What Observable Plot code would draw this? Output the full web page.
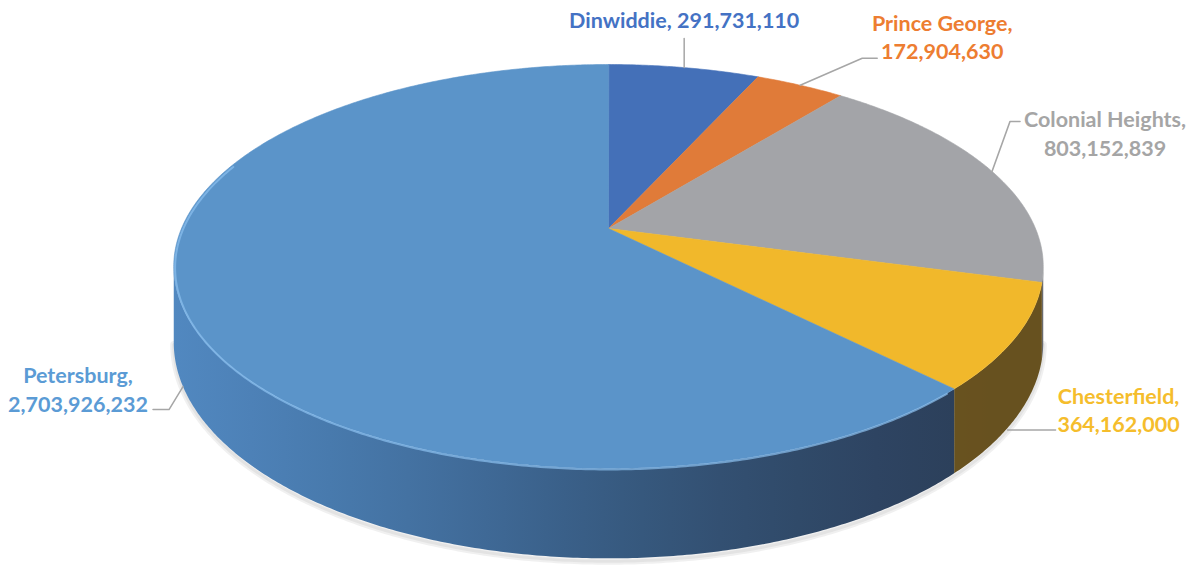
<!DOCTYPE html>
<html><head><meta charset="utf-8">
<script src="https://cdn.jsdelivr.net/npm/d3@7"></script>
<script src="https://cdn.jsdelivr.net/npm/@observablehq/plot@0.6"></script>
<style>html,body{margin:0;padding:0;background:#fff;} #chart svg{display:block}</style>
</head><body><div id="chart"></div>
<script>
// ---- data ----
const categories = ["Dinwiddie", "Prince George", "Colonial Heights", "Chesterfield", "Petersburg"];
const values = [291731110, 172904630, 803152839, 364162000, 2703926232];
// ---- palette ----
const faceColors = ["#4470b8", "#e07b39", "#a3a4a8", "#f1b82b", "#5b94c9"];
const labelColors = ["#4472c4", "#ed7d31", "#a5a5a5", "#f5bd2c", "#5b9bd5"];
const wallRamps = [
  ["#2c4a7e", "#2c4a7e"],
  ["#8a4a22", "#8a4a22"],
  ["#707174", "#6a6b6e"],
  ["#6f5722", "#67511f"],
  ["#5188c0", "#4575a7", "#375a80", "#2e4664", "#2b3c55"]
];
// ---- label layout (pixel offsets from the slice's attach point) ----
const labelLayout = [
  {depth: 0, dx: 0, dy: -49, leader: [[0, 0], [0, -29]]},
  {depth: 0, dx: 142, dy: -49, leader: [[0, 0], [62, -27], [77, -27]]},
  {depth: 0, dx: 113, dy: -39, leader: [[0, 0], [18, -50], [28, -50]]},
  {depth: 1, dx: 103, dy: -9, leader: [[-8, 12], [40, 12]]},
  {depth: 1, dx: -105, dy: 2, leader: [[0, 0], [-14, 23], [-30, 23]]}
];

// ---- geometry ----
const W = 1196, H = 571;
const CX = 608, CY = 228, RX = 427, RY = 194.8;
const P = 0.188;       // perspective strength
const DEPTH = 0.375;   // pie thickness in y units
const TAU = Math.PI * 2;

function proj(t, depth = 0, r = 1) {
  const u = r * Math.sin(t), v = r * Math.cos(t), w = 1 + P * v;
  return [u / w, (v - depth) / w];
}
function angles(a0, a1, step = Math.PI / 360) {
  const n = Math.max(1, Math.ceil((a1 - a0) / step));
  return d3.range(n + 1).map(k => a0 + (a1 - a0) * k / n);
}

const arcs = d3.pie().sort(null).startAngle(0).endAngle(TAU)(values);
const slices = arcs.map((a, i) => ({name: categories[i], a0: a.startAngle, a1: a.endAngle, i}));

// top faces
const facePts = [];
for (const s of slices) {
  facePts.push({X: 0, Y: 0, slice: s.name, c: faceColors[s.i]});
  for (const t of angles(s.a0, s.a1)) {
    const [X, Y] = proj(t);
    facePts.push({X, Y, slice: s.name, c: faceColors[s.i]});
  }
}

// outer walls (visible front part only), one polygon per slice with a horizontal gradient
const tv1 = Math.acos(-P), tv2 = TAU - tv1;
const Xext = 1 / Math.sqrt(1 - P * P);
const wallPts = [];
const gradients = [];
for (const s of slices) {
  const lo = Math.max(s.a0, tv1), hi = Math.min(s.a1, tv2);
  if (hi <= lo) continue;
  const ts = angles(lo, hi);
  const top = ts.map(t => proj(t, 0));
  const bot = ts.map(t => proj(t, DEPTH)).reverse();
  const pts = top.concat(bot);
  const xs = pts.map(p => p[0]);
  const xmin = d3.min(xs), xmax = d3.max(xs);
  const ramp = d3.interpolateRgbBasis(wallRamps[s.i]);
  const id = "wallgrad" + s.i;
  gradients.push({id, stops: d3.range(11).map(k => {
    const x = xmin + (xmax - xmin) * k / 10;
    return {offset: k / 10, color: ramp(Math.max(0, Math.min(1, (x + Xext) / (2 * Xext))))};
  })});
  for (const [X, Y] of pts) wallPts.push({X, Y, slice: s.name, c: `url(#${id})`});
}

// soft shadow under the base and rim highlight on the top face
const shadowPts = angles(tv1, tv2).map(t => { const [X, Y] = proj(t, DEPTH + 0.012); return {X, Y}; });
const pet = slices[4];
const rimPts = angles(pet.a0 + 0.02, pet.a0 + 2.7).map(t => { const [X, Y] = proj(t, 0.008, 0.997); return {X, Y}; });

// labels and leaders
const fmt = d3.format(",");
const labels = [], leaders = [];
slices.forEach((s, i) => {
  const L = labelLayout[i];
  const [ax, ay] = proj((s.a0 + s.a1) / 2, L.depth * DEPTH);
  const text = i === 0 ? `${s.name}, ${fmt(values[i])}` : `${s.name},\n${fmt(values[i])}`;
  labels.push({X: ax + L.dx / RX, Y: ay - L.dy / RY, text, c: labelColors[i]});
  L.leader.forEach(([dx, dy]) => leaders.push({X: ax + dx / RX, Y: ay - dy / RY, id: s.name}));
});

const chart = Plot.plot({
  width: W, height: H, margin: 0,
  x: {domain: [-CX / RX, (W - CX) / RX], range: [0, W], axis: null},
  y: {domain: [(CY - H) / RY, CY / RY], range: [H, 0], axis: null},
  color: {type: "identity"},
  style: {background: "#fff"},
  marks: [
    Plot.line(shadowPts, {x: "X", y: "Y", stroke: "#000", strokeOpacity: 0.06, strokeWidth: 7}),
    Plot.line(shadowPts, {x: "X", y: "Y", stroke: "#000", strokeOpacity: 0.05, strokeWidth: 3}),
    Plot.line(wallPts, {x: "X", y: "Y", z: "slice", fill: "c", curve: "linear-closed"}),
    Plot.line(facePts, {x: "X", y: "Y", z: "slice", fill: "c", stroke: "c", strokeWidth: 0.6, curve: "linear-closed"}),
    Plot.line(rimPts, {x: "X", y: "Y", stroke: "#8cc0f0", strokeOpacity: 0.7, strokeWidth: 2}),
    Plot.line(leaders, {x: "X", y: "Y", z: "id", stroke: "#a6a6a6", strokeWidth: 1.5}),
    Plot.text(labels, {x: "X", y: "Y", text: "text", fill: "c", fontSize: 21.5, fontWeight: "bold",
      fontFamily: "Lato, 'Open Sans', sans-serif", lineHeight: 1.32, textAnchor: "middle"})
  ]
});
// gradient definitions for the wall fills
const defs = d3.select(chart).insert("defs", ":first-child");
for (const g of gradients) {
  const lg = defs.append("linearGradient").attr("id", g.id).attr("x1", 0).attr("x2", 1).attr("y1", 0).attr("y2", 0);
  for (const st of g.stops) lg.append("stop").attr("offset", st.offset).attr("stop-color", st.color);
}
document.getElementById("chart").append(chart);
</script>
</body></html>
